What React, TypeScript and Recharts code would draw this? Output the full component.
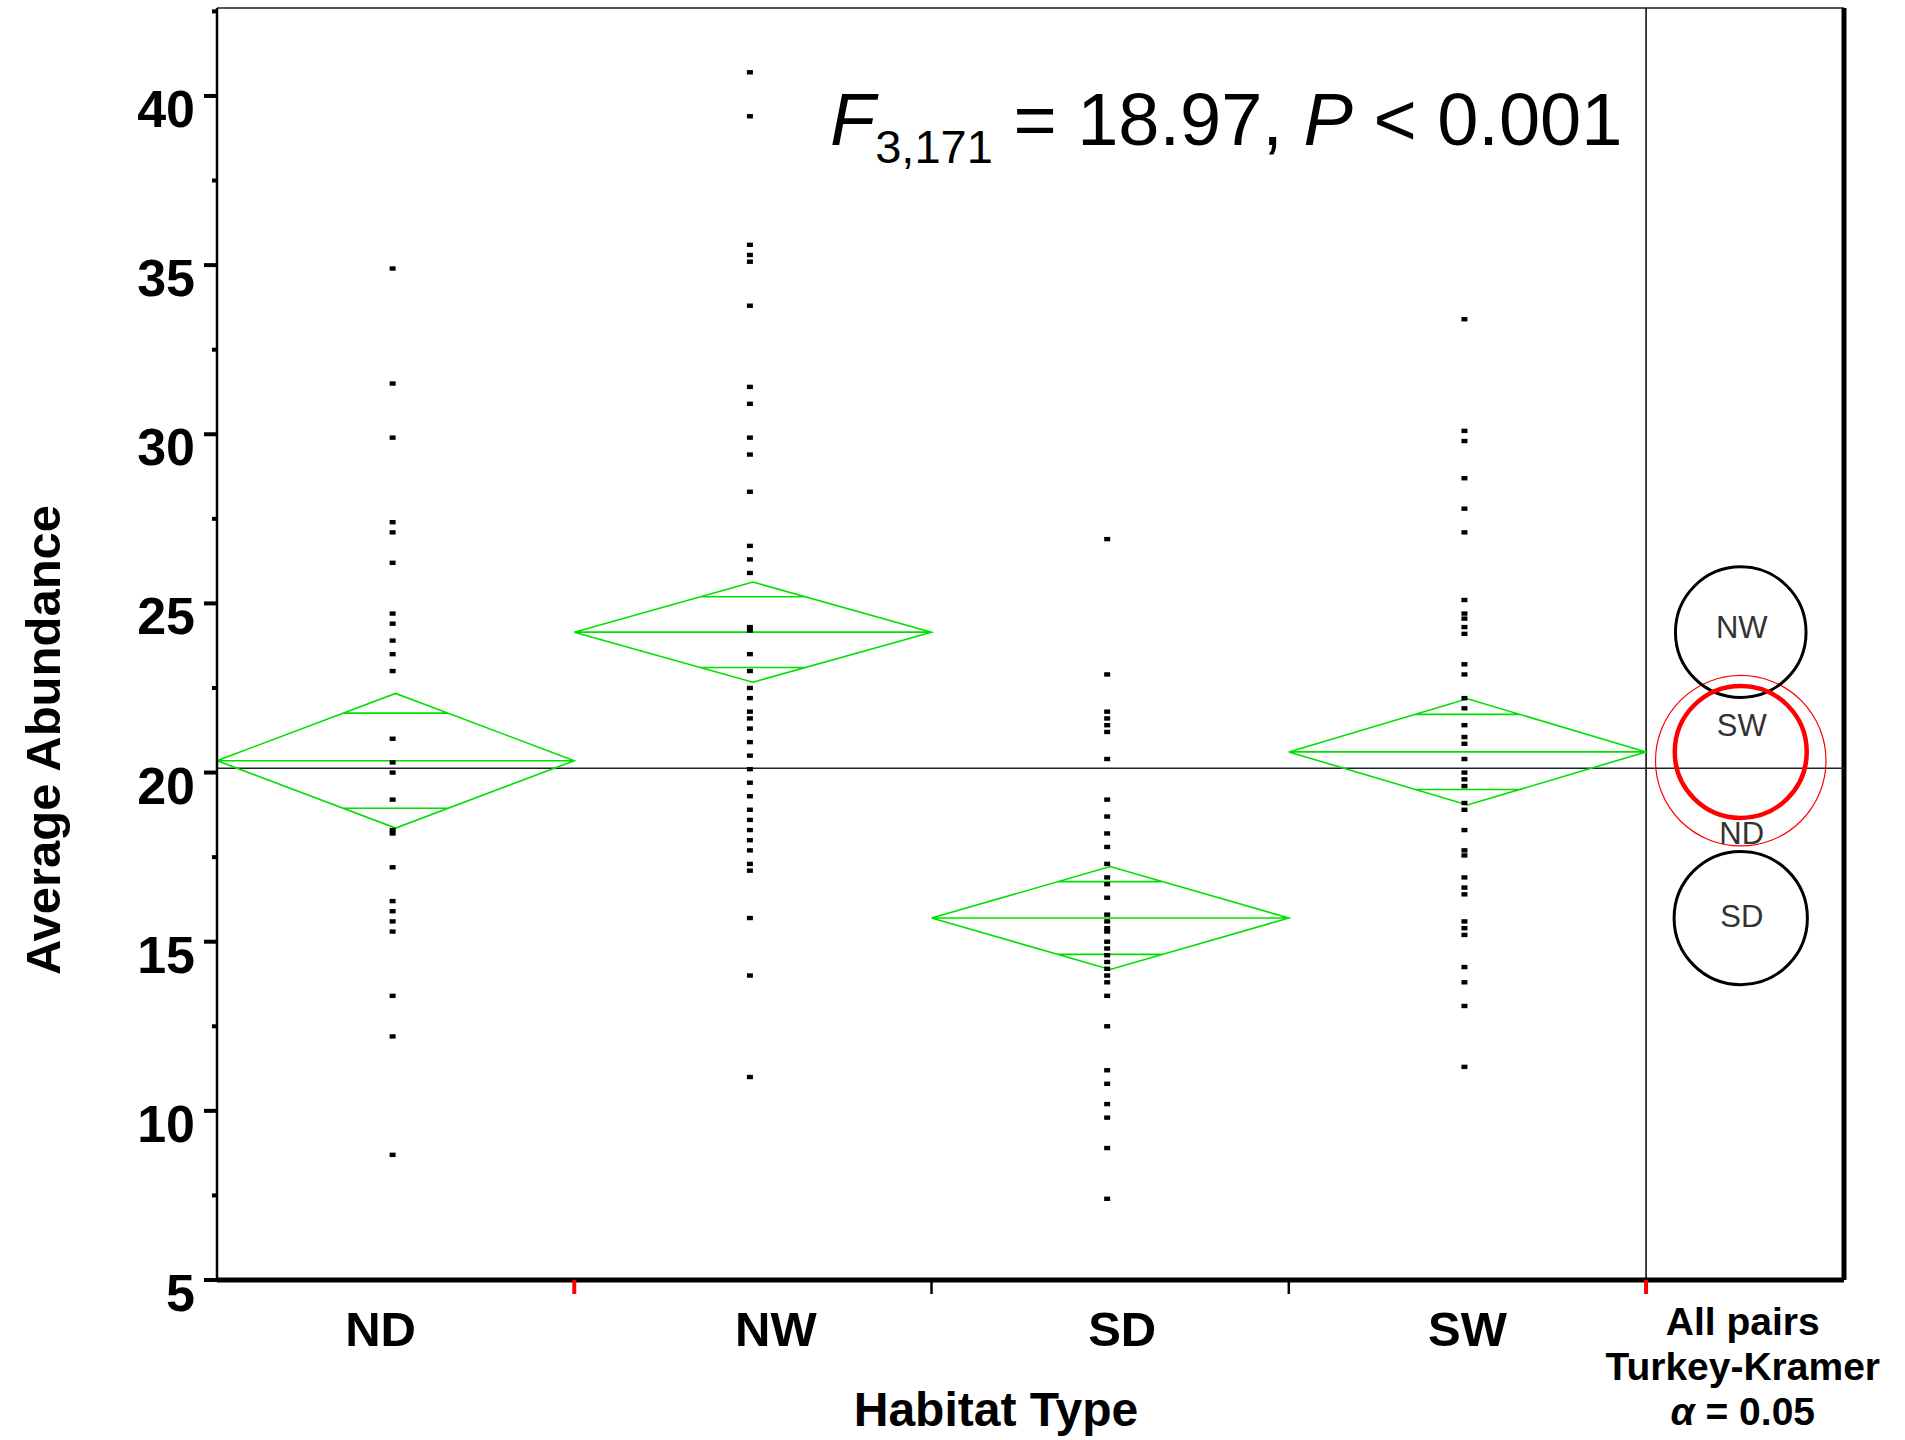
import React from 'react';
import { ComposedChart, XAxis, YAxis, Line, Scatter, ReferenceLine } from 'recharts';

const FONT = '"Liberation Sans", Arial, Helvetica, sans-serif';

// Habitat groups, group means and 95% confidence half-widths (means diamonds)
const habitats = ['ND', 'NW', 'SD', 'SW'];
const habitatMeans = [20.35, 24.15, 15.7, 20.61];
const habitatCI95 = [1.99, 1.48, 1.52, 1.57];
const grandMean = 20.13;

// Individual site abundances per habitat
const abundanceND = [34.9, 31.5, 29.9, 27.4, 27.1, 26.2, 24.7, 24.4, 23.9, 23.5, 23.0, 21.0, 20.3, 20.0, 19.2, 18.3, 18.2, 17.2, 16.2, 15.9, 15.6, 15.3, 13.4, 12.2, 8.7];
const abundanceNW = [40.7, 39.4, 35.6, 35.3, 35.1, 33.8, 31.4, 30.9, 29.9, 29.4, 28.3, 26.7, 26.3, 25.9, 24.3, 24.2, 23.5, 23.0, 22.5, 22.2, 21.8, 21.6, 21.3, 20.9, 20.5, 20.1, 19.7, 19.3, 18.9, 18.6, 18.3, 18.0, 17.7, 17.3, 17.1, 15.7, 14.0, 11.0];
const abundanceSD = [26.9, 22.9, 21.8, 21.6, 21.4, 21.2, 20.4, 19.2, 18.7, 18.2, 17.8, 17.3, 16.9, 16.7, 16.3, 15.8, 15.6, 15.4, 15.3, 15.0, 14.8, 14.6, 14.4, 14.2, 14.0, 13.8, 13.4, 12.5, 11.2, 10.8, 10.2, 9.8, 8.9, 7.4];
const abundanceSW = [33.4, 30.1, 29.8, 28.7, 27.8, 27.1, 25.1, 24.7, 24.55, 24.3, 24.1, 23.2, 22.9, 22.2, 21.9, 21.4, 21.05, 20.85, 20.4, 20.0, 19.8, 19.6, 19.1, 18.9, 18.3, 17.7, 17.55, 16.9, 16.6, 16.4, 15.6, 15.4, 15.2, 14.25, 13.8, 13.1, 11.3];
const abundances = [abundanceND, abundanceNW, abundanceSD, abundanceSW];

// Tukey-Kramer comparison circles (radius in abundance units)
const tukeyRadii = [2.52, 1.93, 1.97, 1.95];
const tukeyRole = ['similar', 'different', 'different', 'selected'];
const tukeyCaption = ['All pairs', 'Turkey-Kramer', 'α = 0.05'];

const yMajorTicks = [5, 10, 15, 20, 25, 30, 35, 40];
const yMinorTicks = [7.5, 12.5, 17.5, 22.5, 27.5, 32.5, 37.5, 42.5];

// Layout
const W = 1905;
const H = 1440;
const MARGIN = { top: 8, right: 61, bottom: 130, left: 157 };
const Y_AXIS_W = 60;
const X_AXIS_H = 30;
const Y_DOMAIN: [number, number] = [5, 42.6];
const X_DOMAIN: [number, number] = [0, 4.554];
const TUKEY_X = 4.265;
const PLOT_H = H - MARGIN.top - MARGIN.bottom - X_AXIS_H;
const PX_PER_UNIT = PLOT_H / (Y_DOMAIN[1] - Y_DOMAIN[0]);

const GREEN = '#00e000';
const OVERLAP = Math.SQRT1_2;

// One path per habitat: diamond outline, mean line, and the two overlap marks
const diamondData = habitats.map((_, i) => {
  const m = habitatMeans[i];
  const c = habitatCI95[i];
  const o = OVERLAP * c;
  const h = 0.5 * (1 - OVERLAP);
  const mid = i + 0.5;
  return [
    { x: i, y: m }, { x: mid, y: m + c }, { x: i + 1, y: m }, { x: mid, y: m - c }, { x: i, y: m },
    { x: i, y: null },
    { x: i, y: m }, { x: i + 1, y: m },
    { x: i + 1, y: null },
    { x: mid - h, y: m + o }, { x: mid + h, y: m + o },
    { x: mid + h, y: null },
    { x: mid - h, y: m - o }, { x: mid + h, y: m - o },
  ];
});

const pointData = habitats.flatMap((_, i) => abundances[i].map((v) => ({ x: i + 0.5, y: v })));

const tukeyData = habitats.map((name, i) => ({
  x: TUKEY_X,
  y: habitatMeans[i],
  r: tukeyRadii[i],
  name,
  role: tukeyRole[i],
}));

const circleStyle: Record<string, { stroke: string; width: number }> = {
  selected: { stroke: '#ff0000', width: 4.5 },
  similar: { stroke: '#ff0000', width: 1.2 },
  different: { stroke: '#000000', width: 3 },
};
// vertical nudge (px) of the labels inside the comparison circles
const circleLabelNudge: Record<string, number> = { ND: 72, NW: -5, SD: -2, SW: -27 };
// horizontal nudge (px) of the category labels under the axis
const categoryLabelNudge = [-15, 23, 12, 0];

const PointShape = (props: any) => {
  const { cx, cy } = props;
  if (cx == null || cy == null) return null;
  return <rect x={cx - 6} y={cy - 2.2} width={6} height={4.4} fill="#000" />;
};

const CircleShape = (props: any) => {
  const { cx, cy, payload } = props;
  if (cx == null || cy == null) return null;
  const s = circleStyle[payload.role];
  return <circle cx={cx} cy={cy} r={payload.r * PX_PER_UNIT} fill="none" stroke={s.stroke} strokeWidth={s.width} />;
};

const CircleLabel = (props: any) => {
  const { cx, cy, payload } = props;
  if (cx == null || cy == null) return null;
  return (
    <text x={cx + 1} y={cy + circleLabelNudge[payload.name]} dy="0.36em" textAnchor="middle"
      fontFamily={FONT} fontSize={31} fill="#333">
      {payload.name}
    </text>
  );
};

const YTick = (props: any) => {
  const { x, y, payload } = props;
  const v = payload.value;
  const major = yMajorTicks.includes(v);
  return (
    <g>
      <line x1={x - (major ? 13 : 5)} x2={x} y1={y} y2={y} stroke="#000" strokeWidth={4} />
      {major && (
        <text x={x - 22} y={y + 31} textAnchor="end" fontFamily={FONT} fontWeight={700} fontSize={52} fill="#000">
          {v}
        </text>
      )}
    </g>
  );
};

const XTick = (props: any) => {
  const { x, y, payload } = props;
  const v = payload.value;
  if (Number.isInteger(v)) {
    const red = v === 1 || v === 4;
    const w = red ? 4 : 2.5;
    return <rect x={x - w / 2} y={y} width={w} height={14} fill={red ? '#ff0000' : '#000'} />;
  }
  if (v === TUKEY_X) {
    return (
      <text textAnchor="middle" fontFamily={FONT} fontWeight={700} fontSize={39} fill="#000">
        {tukeyCaption.map((line, k) => (
          <tspan key={k} x={x + 2} y={y + 55 + k * 45}>
            {k === 2 ? (
              <>
                <tspan fontStyle="italic">α</tspan>
                {line.slice(1)}
              </>
            ) : line}
          </tspan>
        ))}
      </text>
    );
  }
  const idx = Math.floor(v);
  return (
    <text x={x + categoryLabelNudge[idx]} y={y + 66} textAnchor="middle" fontFamily={FONT} fontWeight={700}
      fontSize={49} fill="#000">
      {habitats[idx]}
    </text>
  );
};

const xTicks = [0.5, 1, 1.5, 2, 2.5, 3, 3.5, 4, TUKEY_X];

export default function App() {
  return (
    <div style={{ position: 'absolute', left: 0, top: 0, width: W, height: H, overflow: 'hidden', background: '#fff' }}>
      <ComposedChart width={W} height={H} margin={MARGIN}>
        <XAxis
          dataKey="x"
          type="number"
          domain={X_DOMAIN}
          allowDataOverflow
          ticks={xTicks}
          interval={0}
          tick={<XTick />}
          tickLine={false}
          tickSize={0}
          tickMargin={0}
          height={X_AXIS_H}
          axisLine={{ stroke: '#000', strokeWidth: 5 }}
        />
        <YAxis
          dataKey="y"
          type="number"
          domain={Y_DOMAIN}
          allowDataOverflow
          ticks={[...yMajorTicks, ...yMinorTicks].sort((a, b) => a - b)}
          interval={0}
          tick={<YTick />}
          tickLine={false}
          tickSize={0}
          tickMargin={0}
          width={Y_AXIS_W}
          axisLine={{ stroke: '#000', strokeWidth: 2.5 }}
        />
        <ReferenceLine y={Y_DOMAIN[1]} stroke="#555" strokeWidth={2} />
        <ReferenceLine x={X_DOMAIN[1]} stroke="#000" strokeWidth={5} />
        <ReferenceLine x={4} stroke="#000" strokeWidth={1.5} />
        <ReferenceLine y={grandMean} stroke="#222" strokeWidth={1.5} />
        {diamondData.map((d, i) => (
          <Line
            key={habitats[i]}
            data={d}
            dataKey="y"
            stroke={GREEN}
            strokeWidth={1.6}
            dot={false}
            activeDot={false}
            isAnimationActive={false}
            legendType="none"
          />
        ))}
        <Scatter data={pointData} shape={<PointShape />} isAnimationActive={false} legendType="none" />
        <Scatter data={tukeyData} shape={<CircleShape />} isAnimationActive={false} legendType="none" />
        <Scatter data={tukeyData} shape={<CircleLabel />} isAnimationActive={false} legendType="none" />
      </ComposedChart>
      <svg width={W} height={H} style={{ position: 'absolute', left: 0, top: 0, pointerEvents: 'none' }}>
        <text x={830} y={145} fontFamily={FONT} fontSize={74} fill="#000" style={{ whiteSpace: 'pre' }}>
          <tspan fontStyle="italic">F</tspan>
          <tspan fontSize={47} dy={18}>3,171</tspan>
          <tspan dy={-18}>{' = 18.97, '}</tspan>
          <tspan fontStyle="italic">P</tspan>
          <tspan>{' < 0.001'}</tspan>
        </text>
        <text x={996} y={1426} textAnchor="middle" fontFamily={FONT} fontWeight={700} fontSize={48} fill="#000">
          Habitat Type
        </text>
        <text x={60} y={740} transform="rotate(-90 60 740)" textAnchor="middle" fontFamily={FONT} fontWeight={700}
          fontSize={49} fill="#000">
          Average Abundance
        </text>
      </svg>
    </div>
  );
}
